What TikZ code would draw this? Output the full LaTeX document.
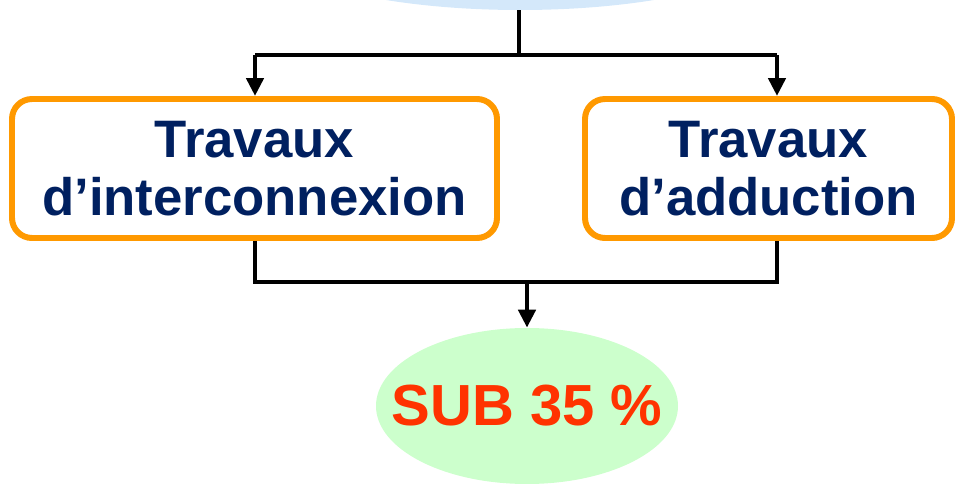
\documentclass[tikz,border=0pt]{standalone}
\usepackage{fontspec}
\setmainfont{Liberation Sans}
\usetikzlibrary{arrows.meta,shapes.geometric}
\definecolor{navytxt}{RGB}{0, 32, 96}
\definecolor{boxorange}{RGB}{255, 153, 0}
\definecolor{subred}{RGB}{255, 51, 0}
\definecolor{subgreen}{RGB}{204, 255, 204}
\definecolor{topblue}{RGB}{212, 232, 250}
\tikzset{
    work/.style={draw=boxorange, line width=3.4pt, rounded corners=0.4cm, fill=white,
        minimum height=2.78cm, align=center, text=navytxt,
        font=\fontsize{30}{33}\selectfont\bfseries},
    link/.style={line width=2.7pt, draw=black},
    tip/.style={link, -{Triangle[length=0.36cm,width=0.34cm]}}
}
\begin{document}
\begin{tikzpicture}
\useasboundingbox (0,0) rectangle (19.1,9.66);
% Top (cut) ellipse
\node[ellipse, fill=topblue, inner sep=0, minimum width=10.4cm, minimum height=2.8cm] (top) at (10.4,10.86) {};

% Works
\node[work, minimum width=9.7cm] (interco) at (5.09,6.29) {Travaux\\d’interconnexion};
\node[work, minimum width=7.34cm] (adduc) at (15.37,6.29) {Travaux\\d’adduction};

% Subsidy
\node[ellipse, fill=subgreen, inner ysep=0, inner xsep=-0.6cm, minimum width=6.04cm, minimum height=3.12cm,
    text=subred, font=\fontsize{33}{36}\selectfont\bfseries] (sub) at (10.54,1.54) {SUB 35 \%};

% Split
\coordinate (split) at (10.38,8.56);
\coordinate (inL) at (5.1,8.56);
\coordinate (inR) at (15.54,8.56);
\draw[link] (top.south -| split) -- (split);
\draw[link] (inL) -- (inR);
\draw[tip] (inL) -- (inL |- interco.north);
\draw[tip] (inR) -- (inR |- adduc.north);

% Join
\coordinate (outL) at (5.1,4.02);
\coordinate (outR) at (15.54,4.02);
\coordinate (join) at (10.54,4.02);
\draw[link] (outL |- interco.south) -- (outL) -- (outR) -- (outR |- adduc.south);
\draw[tip] (join) -- (sub.north);
\end{tikzpicture}
\end{document}
